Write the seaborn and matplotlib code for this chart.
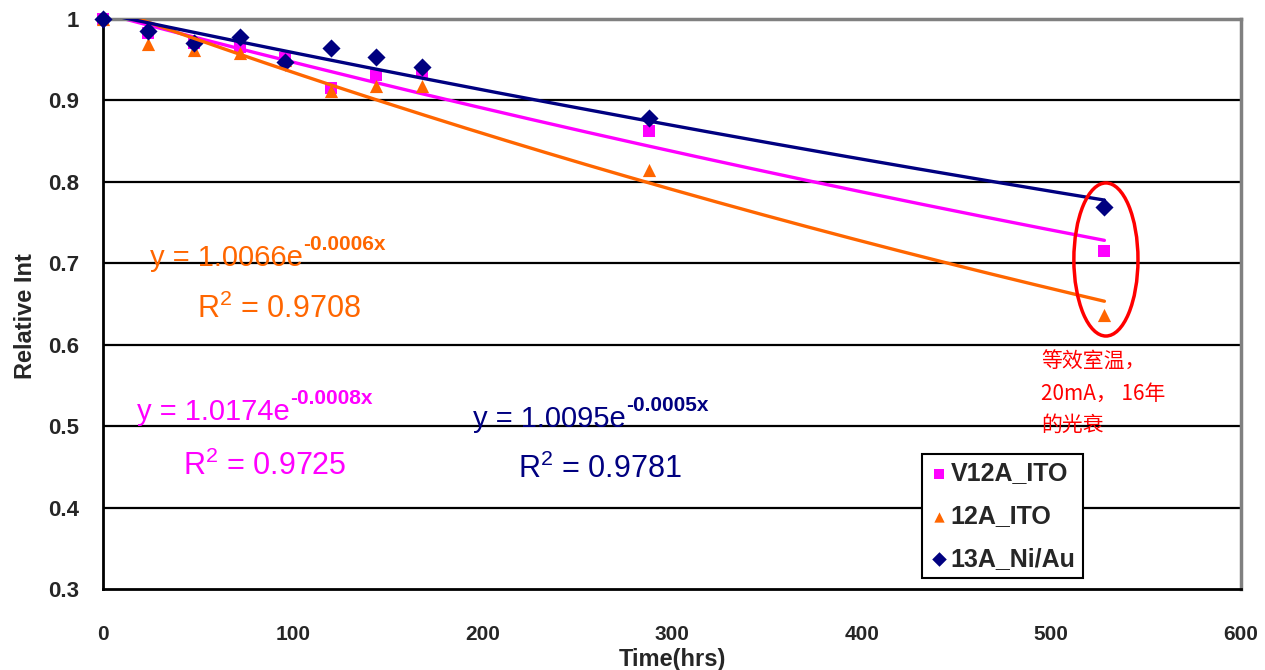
import numpy as np
import pandas as pd
import matplotlib
matplotlib.use('Agg')
import matplotlib.pyplot as plt
from matplotlib.patches import Ellipse
import seaborn as sns

# data
hours = [0, 24, 48, 72, 96, 120, 144, 168, 288, 528]
v12a_ito = [1.0, 0.983, 0.970, 0.965, 0.952, 0.915, 0.931, 0.935, 0.862, 0.715]
a12_ito = [1.0, 0.969, 0.962, 0.958, 0.950, 0.912, 0.918, 0.918, 0.815, 0.636]
a13_niau = [1.0, 0.985, 0.971, 0.978, 0.947, 0.964, 0.953, 0.941, 0.878, 0.769]

series_names = ['V12A_ITO', '12A_ITO', '13A_Ni/Au']
colors = ['#FF00FF', '#FF6600', '#000080']
markers = ['s', '^', 'D']
marker_sizes = [80, 90, 85]

eq_texts = ['y = 1.0174e', 'y = 1.0066e', 'y = 1.0095e']
eq_exps = ['-0.0008x', '-0.0006x', '-0.0005x']
r2_texts = ['0.9725', '0.9708', '0.9781']

x_ticks = [0, 100, 200, 300, 400, 500, 600]
y_ticks = [0.3, 0.4, 0.5, 0.6, 0.7, 0.8, 0.9, 1.0]
y_ticklabels = ['0.3', '0.4', '0.5', '0.6', '0.7', '0.8', '0.9', '1']

note = '等效室温，\n20mA， 16年\n的光衰'

sns.set_style('white')
plt.rcParams['font.family'] = ['Liberation Sans', 'DejaVu Sans']
plt.rcParams['mathtext.fontset'] = 'custom'
plt.rcParams['mathtext.rm'] = 'Liberation Sans'
plt.rcParams['mathtext.it'] = 'Liberation Sans'
plt.rcParams['mathtext.bf'] = 'Liberation Sans:bold'

df = pd.DataFrame({'hours': hours * 3,
                   'value': v12a_ito + a12_ito + a13_niau,
                   'series': np.repeat(series_names, len(hours))})

fig = plt.figure(figsize=(12.65, 6.7), dpi=100)
ax = fig.add_axes([0.0814, 0.121, 0.8996, 0.8507])

# horizontal grid
for yv in y_ticks[1:-1]:
    ax.axhline(yv, color='black', lw=1.6, zorder=1)

# exponential trend lines (fit on log values)
xfit = np.linspace(0, max(hours), 200)
fits = []
for name, col in zip(series_names, colors):
    sub = df[df['series'] == name]
    b, a = np.polyfit(sub['hours'], np.log(sub['value']), 1)
    fits.append(pd.DataFrame({'hours': xfit, 'value': np.exp(a) * np.exp(b * xfit), 'series': name}))
fit_df = pd.concat(fits)

for name, col, mk, ms in zip(series_names, colors, markers, marker_sizes):
    sub = df[df['series'] == name]
    sns.scatterplot(data=sub, x='hours', y='value', color=col, marker=mk, s=ms,
                    edgecolor=col, linewidth=0, ax=ax, zorder=3, label=name, clip_on=False)

for i, (name, col) in enumerate(zip(series_names, colors)):
    sub = fit_df[fit_df['series'] == name]
    sns.lineplot(data=sub, x='hours', y='value', color=col, lw=2.4, ax=ax,
                 zorder=2.5 + i, legend=False)

ax.set_xlim(0, 600)
ax.set_ylim(0.3, 1.0)
ax.set_xticks(x_ticks)
ax.set_yticks(y_ticks)
ax.set_yticklabels(y_ticklabels)
ax.tick_params(axis='x', direction='in', length=5, width=1.5, pad=26, labelsize=15)
ax.tick_params(axis='y', direction='in', length=0, pad=17, labelsize=16)
for lab in ax.get_xticklabels() + ax.get_yticklabels():
    lab.set_fontweight('bold')

ax.set_xlabel('Time(hrs)', fontsize=17, fontweight='bold', labelpad=3)
ax.set_ylabel('Relative Int', fontsize=17, fontweight='bold')
ax.yaxis.set_label_coords(-0.058, 0.479)

for side in ['left', 'bottom']:
    ax.spines[side].set_color('black')
    ax.spines[side].set_linewidth(2)
for side in ['top', 'right']:
    ax.spines[side].set_color('#808080')
    ax.spines[side].set_linewidth(2.5)

# equations and R^2
eq_pos = [(17.9, 0.5074), (24.8, 0.6966), (195.3, 0.4988)]
r2_pos = [(42.2, 0.4398), (49.6, 0.6327), (219.0, 0.4361)]
for txt, ex, r2, col, (ex_x, ex_y), (rx, ry) in zip(eq_texts, eq_exps, r2_texts, colors, eq_pos, r2_pos):
    t = ax.text(ex_x, ex_y, txt, color=col, fontsize=21, va='baseline', ha='left', zorder=6)
    ax.annotate(ex, xy=(1.0, 0.65), xycoords=t, color=col, fontsize=15,
                fontweight='bold', va='bottom', ha='left', zorder=6)
    ax.text(rx, ry, 'R$^{2}$ = ' + r2, color=col, fontsize=22, va='baseline', ha='left', zorder=6)

# red ellipse and note
ax.add_patch(Ellipse((528.8, 0.7046), 33.8, 0.188, fill=False, edgecolor='#FF0000',
                     lw=2.5, zorder=7, clip_on=False))
ax.text(494.5, 0.592, note, color='#FF0000', fontsize=15, va='top', ha='left',
        linespacing=1.55, family=['Noto Sans CJK SC', 'DejaVu Sans'], zorder=7)

leg = ax.legend(loc='upper left', bbox_to_anchor=(0.7197, 0.2368), borderaxespad=0,
                frameon=True, fancybox=False, edgecolor='black', framealpha=1,
                prop={'weight': 'bold', 'size': 18}, handletextpad=0.05,
                handlelength=0.8, labelspacing=0.75, borderpad=0.3)
leg.get_frame().set_linewidth(1.5)
for h in leg.legend_handles:
    h.set_sizes([55])

fig.savefig('out.png', dpi=100)
